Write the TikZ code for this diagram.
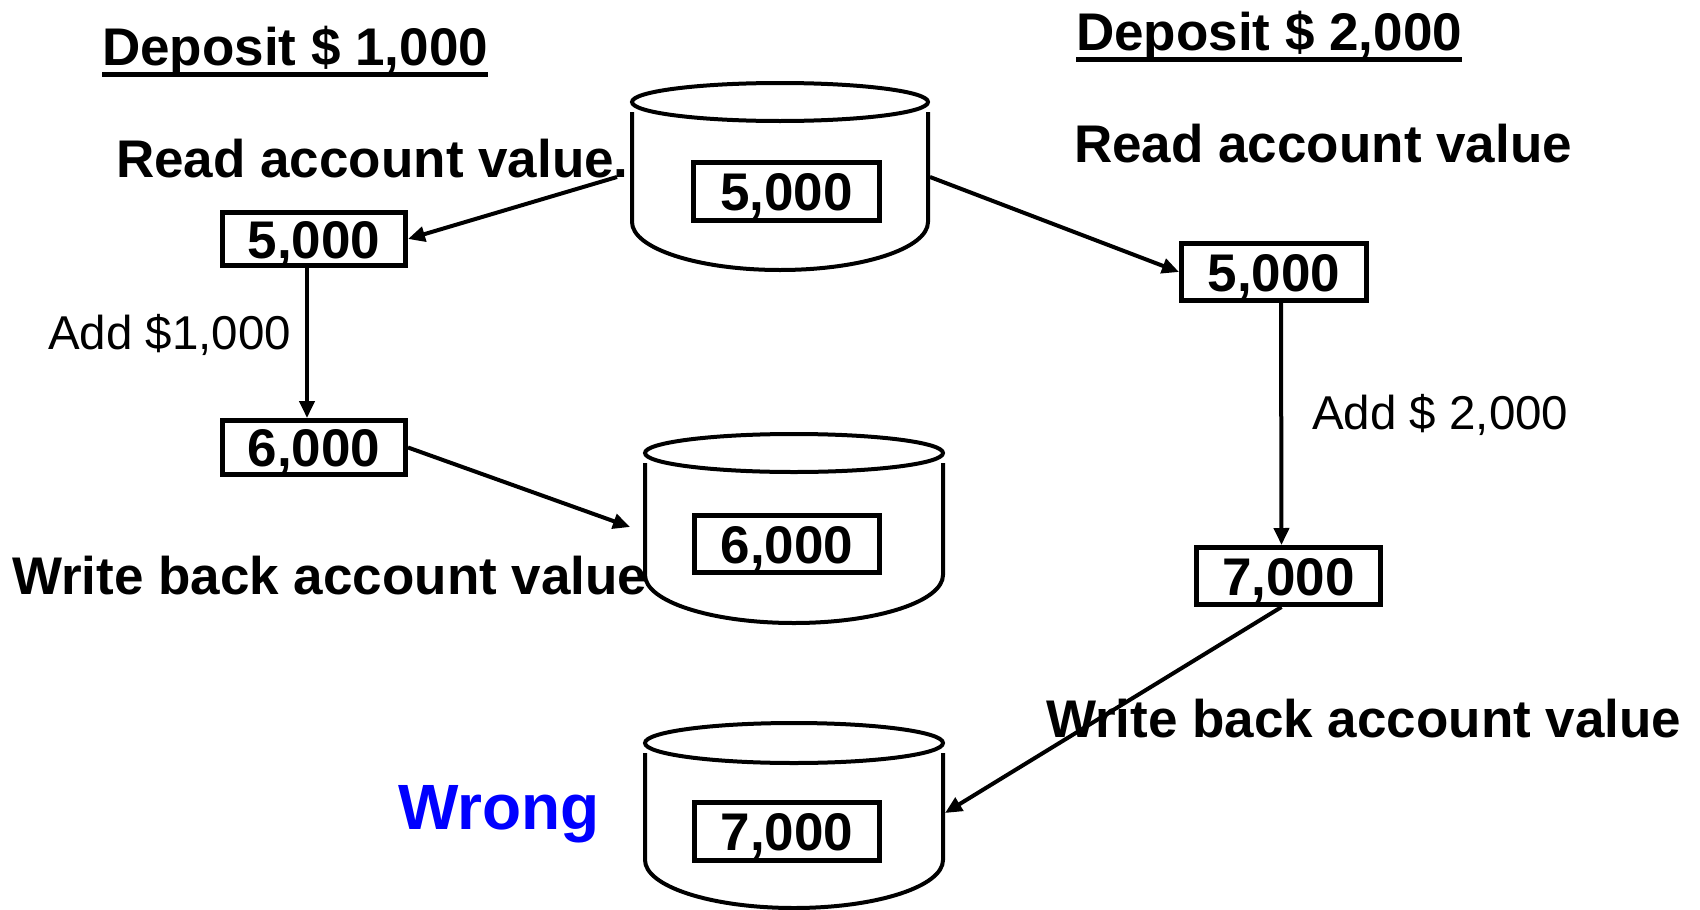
\documentclass[tikz,border=0pt]{standalone}
\usepackage{fontspec}
\setmainfont{Liberation Sans}
\usetikzlibrary{arrows.meta}
\begin{document}
\begin{tikzpicture}[x=1pt,y=-1pt,
  lbl/.style={anchor=base west, inner sep=0pt, font=\fontsize{53}{60}\selectfont\bfseries},
  addlbl/.style={anchor=base west, inner sep=0pt, font=\fontsize{47.5}{55}\selectfont},
  wronglbl/.style={anchor=base west, inner sep=0pt, text=blue, font=\fontsize{64}{70}\selectfont\bfseries},
  valbox/.style={draw, line width=5pt, minimum width=184pt, minimum height=56pt, inner sep=0pt,
    text height=38pt, text depth=0pt, font=\fontsize{53}{60}\selectfont\bfseries},
  arr/.style={line width=4pt, -{Triangle[length=17pt,width=15pt]}},
  cylline/.style={line width=4pt},
  uline/.style={line width=5pt}]
\useasboundingbox (0,0) rectangle (1700,910);
\fill[white] (0,0) rectangle (1700,910);

% cylinders
\draw[cylline] (780,102) ellipse [x radius=148, y radius=19];
\draw[cylline] (632,112) -- (632,222) .. controls (632,248.5) and (698.3,270) .. (780,270)
   .. controls (861.7,270) and (928,248.5) .. (928,222) -- (928,112);
\draw[cylline] (794,453) ellipse [x radius=149, y radius=19];
\draw[cylline] (645,463) -- (645,575) .. controls (645,601.5) and (711.7,623) .. (794,623)
   .. controls (876.3,623) and (943,601.5) .. (943,575) -- (943,463);
\draw[cylline] (794,743) ellipse [x radius=149, y radius=20];
\draw[cylline] (645,753) -- (645,860) .. controls (645,886.5) and (711.7,908) .. (794,908)
   .. controls (876.3,908) and (943,886.5) .. (943,860) -- (943,753);

% value boxes
\node[valbox, minimum width=186pt, minimum height=58pt] (c1box) at (786.5,191.5) {5,000};
\node[valbox, minimum width=185pt, minimum height=57pt] (c2box) at (787,544) {6,000};
\node[valbox, minimum width=185pt, minimum height=58pt] (c3box) at (787,831.5) {7,000};
\node[valbox, minimum width=183pt, minimum height=53pt] (b5L) at (314,239) {5,000};
\node[valbox, minimum width=183pt, minimum height=54pt] (b6L) at (314,447.5) {6,000};
\node[valbox, minimum width=185pt, minimum height=57pt] (b5R) at (1274,272) {5,000};
\node[valbox, minimum width=184pt, minimum height=57pt] (b7R) at (1288.5,576) {7,000};

% labels
\node[lbl] (dep1) at (102,65) {Deposit \$ 1,000};
\node[lbl] (dep2) at (1076,50) {Deposit \$ 2,000};
\draw[uline] ([yshift=-9pt]dep1.base west) -- ([yshift=-9pt]dep1.base east);
\draw[uline] ([yshift=-9pt]dep2.base west) -- ([yshift=-9pt]dep2.base east);
\node[lbl] (readL) at (116,177) {Read account value.};
\node[lbl] (readR) at (1074,162) {Read account value};
\node[lbl] (writeL) at (12,594) {Write back account value};
\node[lbl] (writeR) at (1046,737) {Write back account value};
\node[addlbl] (addL) at (48,349) {Add \$1,000};
\node[addlbl] (addR) at (1312,429) {Add \$ 2,000};
\node[wronglbl] (wrong) at (398,829) {Wrong};

% connectors
\coordinate (t1) at (617,177);
\coordinate (t2) at (930,177);
\coordinate (h3) at (630,527);
\coordinate (h4) at (945,813);
\draw[arr] (t1) -- (b5L.east);
\draw[arr] (t2) -- (b5R.west);
\draw[arr] ([xshift=-7pt]b5L.south) -- ([xshift=-7pt]b6L.north);
\draw[arr] (b6L.east) -- (h3);
\draw[arr] ([xshift=7pt]b5R.south) -- ([xshift=-7pt]b7R.north);
\draw[arr] ([xshift=-7pt]b7R.south) -- (h4);
\end{tikzpicture}
\end{document}
